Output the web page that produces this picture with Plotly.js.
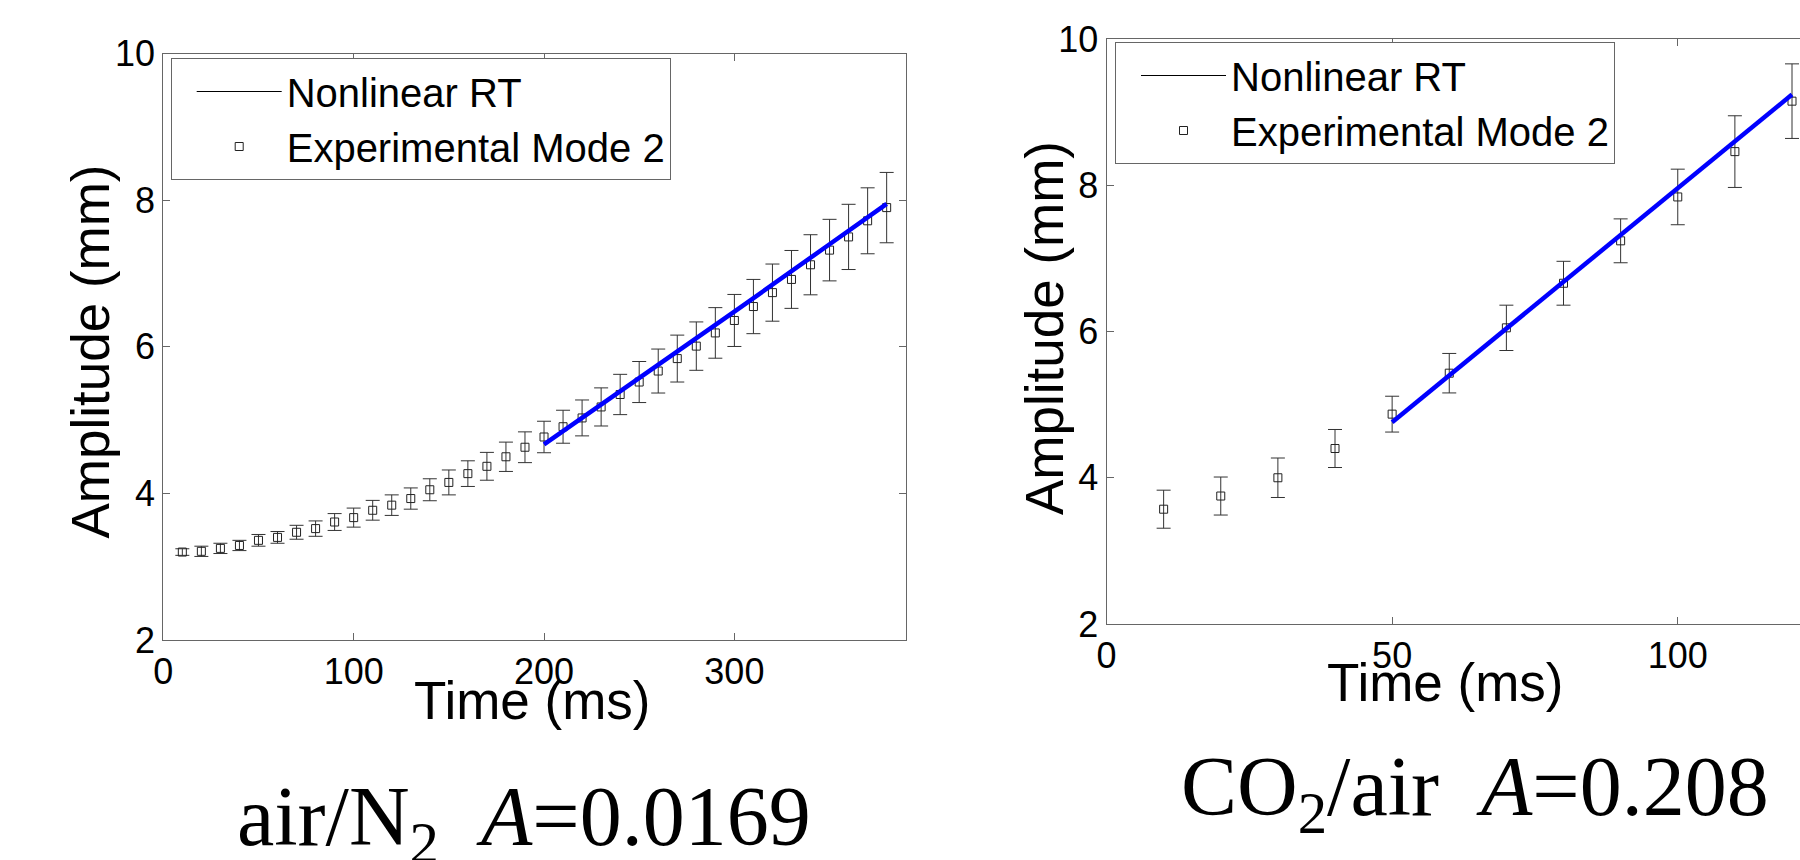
<!DOCTYPE html>
<html><head><meta charset="utf-8">
<script src="https://cdn.plot.ly/plotly-3.0.1.min.js"></script>
<style>html,body{margin:0;padding:0;background:#fff;overflow:hidden}#chart{width:1800px;height:860px}</style>
</head><body><div id="chart"></div>
<script>
// ---- data: left panel (air/N2) ----
const timeAirN2 = [10,20,30,40,50,60,70,80,90,100,110,120,130,140,150,160,170,180,190,200,210,220,230,240,250,260,270,280,290,300,310,320,330,340,350,360,370,380];
const ampAirN2  = [3.20,3.21,3.25,3.29,3.36,3.40,3.47,3.52,3.61,3.67,3.77,3.84,3.93,4.05,4.15,4.27,4.37,4.50,4.63,4.77,4.91,5.03,5.18,5.35,5.52,5.67,5.84,6.01,6.19,6.36,6.55,6.74,6.92,7.12,7.32,7.50,7.72,7.90];
const errAirN2  = [0.045,0.07,0.07,0.07,0.08,0.08,0.095,0.105,0.115,0.13,0.135,0.14,0.145,0.15,0.17,0.175,0.19,0.20,0.21,0.215,0.225,0.245,0.26,0.275,0.28,0.30,0.32,0.33,0.345,0.355,0.37,0.39,0.395,0.41,0.42,0.445,0.45,0.48];
const fitTimeAirN2 = [200,250,300,350,380];
const fitAmpAirN2  = [4.67,5.57,6.48,7.40,7.95];

// ---- data: right panel (CO2/air) ----
const timeCO2 = [10,20,30,40,50,60,70,80,90,100,110,120];
const ampCO2  = [3.57,3.75,4.00,4.40,4.87,5.43,6.05,6.66,7.24,7.84,8.46,9.15];
const errCO2  = [0.26,0.26,0.27,0.26,0.245,0.27,0.31,0.30,0.30,0.38,0.49,0.51];
const fitTimeCO2 = [50,120];
const fitAmpCO2  = [4.76,9.24];

// ---- labels / ticks ----
const xTicksAirN2 = [0,100,200,300];
const xTicksCO2 = [0,50,100];
const yTicks = [2,4,6,8,10];
const seriesNames = ['Nonlinear RT','Experimental Mode 2'];
const xTitle = 'Time (ms)';
const yTitle = 'Amplitude (mm)';
const captions = ['air/N<sub>2</sub>\u00a0\u00a0<i>A</i>=0.0169', 'CO<sub>2</sub>/air\u00a0\u00a0<i>A</i>=0.208'];

const W = 1800, H = 860;
const px = v => v / W;
const py = v => 1 - v / H;
const SANS = 'Liberation Sans, Arial, sans-serif';
const SERIF = 'Liberation Serif, Times New Roman, serif';
const AX = '#666666';

function panelTraces(t, a, e, ft, fa, xa, ya, leg) {
  return [
    {x: ft, y: fa, xaxis: xa, yaxis: ya, type: 'scatter', mode: 'lines', name: seriesNames[0],
     line: {color: '#000', width: 1}, legend: leg, hoverinfo: 'skip'},
    {x: t, y: a, xaxis: xa, yaxis: ya, type: 'scatter', mode: 'markers', name: seriesNames[1],
     marker: {symbol: 'square-open', size: 8, color: '#222', line: {width: 1, color: '#222'}},
     error_y: {type: 'data', array: e, visible: true, color: '#333', thickness: 1, width: 7},
     legend: leg},
    {x: ft, y: fa, xaxis: xa, yaxis: ya, type: 'scatter', mode: 'lines', name: seriesNames[0],
     line: {color: 'rgb(0,0,255)', width: 4.5}, showlegend: false, legend: leg}
  ];
}

const data = [
  ...panelTraces(timeAirN2, ampAirN2, errAirN2, fitTimeAirN2, fitAmpAirN2, 'x', 'y', 'legend'),
  ...panelTraces(timeCO2, ampCO2, errCO2, fitTimeCO2, fitAmpCO2, 'x2', 'y2', 'legend2')
];

const axStyle = {
  showline: true, linecolor: AX, linewidth: 1, ticks: 'inside', ticklen: 7, tickcolor: AX, tickwidth: 1,
  showgrid: false, zeroline: false, tickfont: {family: SANS, size: 36, color: '#000'}
};

const legStyle = {
  xanchor: 'left', yanchor: 'top', bgcolor: '#fff', bordercolor: AX, borderwidth: 1,
  font: {family: SANS, size: 40, color: '#000'}, itemwidth: 85, indentation: 20, entrywidth: 500, tracegroupgap: 0
};

const layout = {
  width: W, height: H, margin: {l: 0, r: 0, t: 0, b: 0},
  paper_bgcolor: '#fff', plot_bgcolor: '#fff',
  font: {family: SANS, color: '#000'},
  xaxis: Object.assign({}, axStyle, {domain: [px(163.3), px(905.7)], range: [0, 390], tickvals: xTicksAirN2, mirror: 'ticks', anchor: 'y'}),
  yaxis: Object.assign({}, axStyle, {domain: [py(640), py(53.7)], range: [2, 10], tickvals: yTicks, mirror: 'ticks', anchor: 'x'}),
  xaxis2: Object.assign({}, axStyle, {domain: [px(1106.5), 1], range: [0, 121.4], tickvals: xTicksCO2, mirror: 'ticks', anchor: 'y2'}),
  yaxis2: Object.assign({}, axStyle, {domain: [py(624), py(39)], range: [2, 10], tickvals: yTicks, mirror: false, anchor: 'x2'}),
  legend: Object.assign({}, legStyle, {x: px(170.7), y: py(58)}),
  legend2: Object.assign({}, legStyle, {x: px(1115), y: py(42)}),
  showlegend: true,
  annotations: [
    // axis titles
    {text: xTitle, xref: 'paper', yref: 'paper', x: px(531.7), y: py(700), xanchor: 'center', yanchor: 'middle', showarrow: false,
     font: {family: SANS, size: 53, color: '#000'}},
    {text: xTitle, xref: 'paper', yref: 'paper', x: px(1445.4), y: py(682), xanchor: 'center', yanchor: 'middle', showarrow: false,
     font: {family: SANS, size: 53, color: '#000'}},
    {text: yTitle, xref: 'paper', yref: 'paper', x: px(89.5), y: py(352), xanchor: 'center', yanchor: 'middle', textangle: -90, showarrow: false,
     font: {family: SANS, size: 53, color: '#000'}},
    {text: yTitle, xref: 'paper', yref: 'paper', x: px(1044), y: py(328), xanchor: 'center', yanchor: 'middle', textangle: -90, showarrow: false,
     font: {family: SANS, size: 53, color: '#000'}},
    // panel captions
    {text: captions[0], xref: 'paper', yref: 'paper', x: px(524), y: py(823), xanchor: 'center', yanchor: 'middle', showarrow: false,
     font: {family: SERIF, size: 84, color: '#000'}},
    {text: captions[1], xref: 'paper', yref: 'paper', x: px(1474.5), y: py(793), xanchor: 'center', yanchor: 'middle', showarrow: false,
     font: {family: SERIF, size: 84, color: '#000'}}
  ]
};

Plotly.newPlot('chart', data, layout, {displayModeBar: false, staticPlot: true});
</script>
</body></html>
